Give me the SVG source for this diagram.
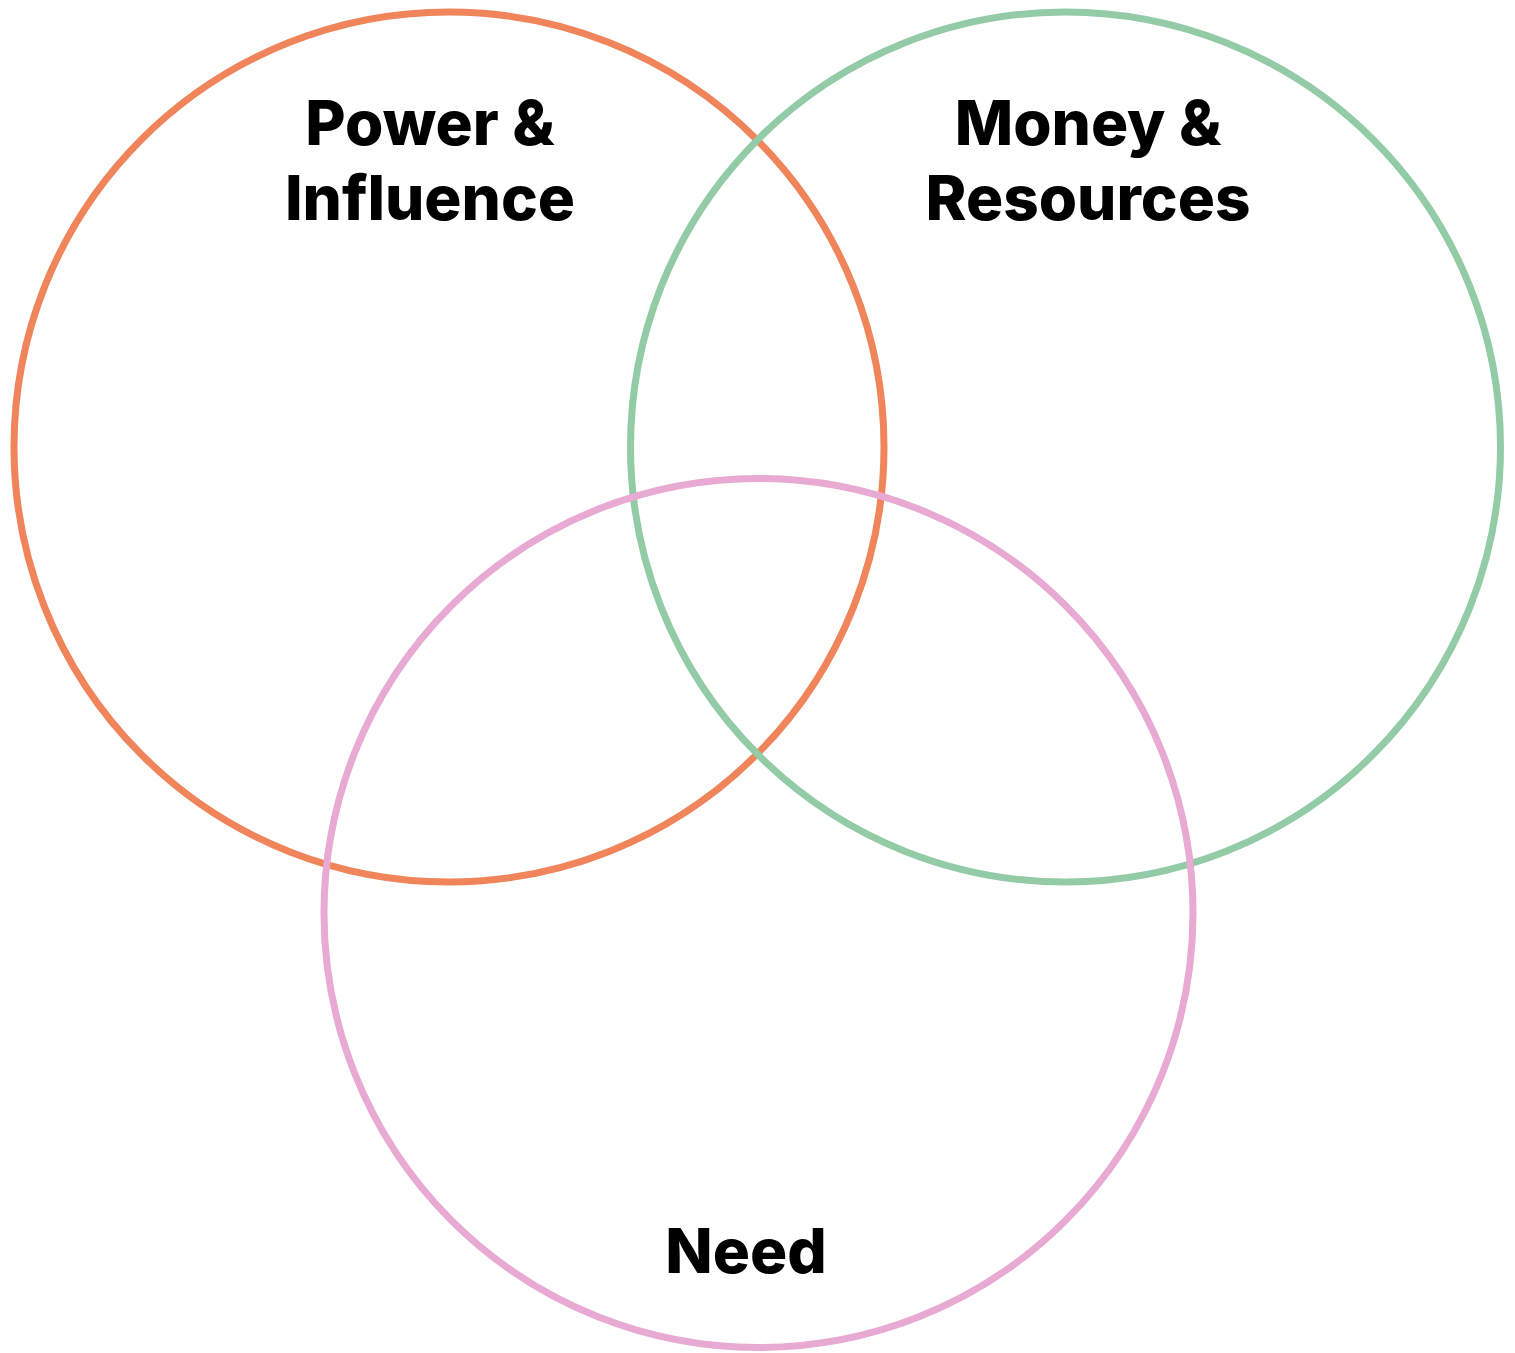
<svg xmlns="http://www.w3.org/2000/svg" width="1515" height="1353" viewBox="0 0 1515 1353">
<style>
.c{fill:none;stroke-width:7}
.t{font-family:Inter,"Noto Sans","Liberation Sans",sans-serif;font-weight:800;font-size:62px;fill:#000;text-anchor:middle}
</style>
<rect width="1515" height="1353" fill="#fff"/>
<g id="power">
<circle class="c" cx="449" cy="447" r="435" stroke="#F0845A"/>
<text class="t" x="430" y="145">Power &amp;</text>
<text class="t" x="430" y="220">Influence</text>
</g>
<g id="money">
<circle class="c" cx="1065.5" cy="447" r="435" stroke="#93CBA6"/>
<text class="t" x="1088" y="145">Money &amp;</text>
<text class="t" x="1088" y="220">Resources</text>
</g>
<g id="need">
<circle class="c" cx="758.5" cy="913" r="434.5" stroke="#E8A9D3"/>
<text class="t" x="746" y="1273">Need</text>
</g>
<g id="connectors"/>
</svg>
